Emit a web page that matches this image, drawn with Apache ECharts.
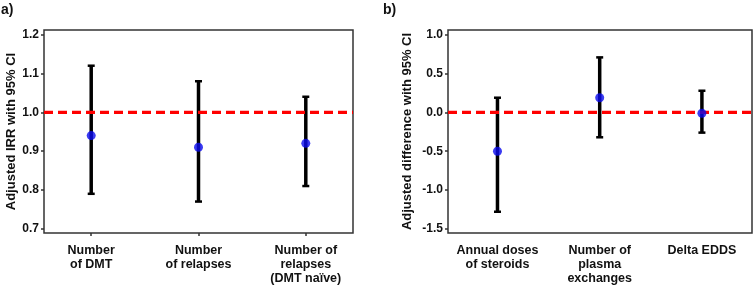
<!DOCTYPE html>
<html><head><meta charset="utf-8">
<script src="https://cdn.jsdelivr.net/npm/echarts@6/dist/echarts.min.js"></script>
<style>html,body{margin:0;padding:0;background:#fff}#c{width:755px;height:288px}</style>
</head><body><div id="c"></div>
<script>
// Panel a
const catsA = ['Number\nof DMT', 'Number\nof relapses', 'Number of\nrelapses\n(DMT naïve)'];
const estA = [0.94, 0.91, 0.92];
const lowA = [0.79, 0.77, 0.81];
const highA = [1.12, 1.08, 1.04];
const ticksA = [0.7, 0.8, 0.9, 1.0, 1.1, 1.2];
const refA = 1.0;
// Panel b
const catsB = ['Annual doses\nof steroids', 'Number of\nplasma\nexchanges', 'Delta EDDS'];
const estB = [-0.50, 0.19, -0.01];
const lowB = [-1.28, -0.32, -0.26];
const highB = [0.19, 0.71, 0.28];
const ticksB = [-1.5, -1.0, -0.5, 0.0, 0.5, 1.0];
const refB = 0.0;
const pos = [1, 2, 3];

const FONT = '"Liberation Sans", Arial, sans-serif';
const chart = echarts.init(document.getElementById('c'));

function xAxisFor(gi, cats, min, max) {
  return {
    type: 'value', gridIndex: gi, min: min, max: max,
    splitLine: {show: false}, axisLine: {show: false},
    axisTick: {show: true, customValues: pos, length: 3, lineStyle: {color: '#333', width: 1.5}},
    axisLabel: {customValues: pos, formatter: v => cats[Math.round(v) - 1] || '',
      fontFamily: FONT, fontWeight: 'bold', fontSize: 12.5, color: '#111', lineHeight: 14, margin: 11}
  };
}
function yAxisFor(gi, ticks, min, max, name, gap) {
  return {
    type: 'value', gridIndex: gi, min: min, max: max,
    splitLine: {show: false}, axisLine: {show: false},
    axisTick: {show: true, customValues: ticks, length: 3, lineStyle: {color: '#333', width: 1.5}},
    axisLabel: {customValues: ticks, formatter: v => v.toFixed(1),
      fontFamily: FONT, fontWeight: 'bold', fontSize: 12, color: '#111', margin: 5},
    name: name, nameLocation: 'middle', nameGap: gap, nameRotate: 90,
    nameTextStyle: {fontFamily: FONT, fontWeight: 'bold', fontSize: 13, color: '#111'}
  };
}
function errSeries(axi, low, high) {
  return {
    type: 'custom', xAxisIndex: axi, yAxisIndex: axi, z: 2,
    data: pos.map((p, i) => [p, low[i], high[i]]),
    renderItem: function (params, api) {
      const lo = api.coord([api.value(0), api.value(1)]);
      const hi = api.coord([api.value(0), api.value(2)]);
      const cw = 3.5;
      const st = {stroke: '#000', lineWidth: 3.5};
      const cs = {stroke: '#000', lineWidth: 2.5};
      return {type: 'group', children: [
        {type: 'line', shape: {x1: lo[0], y1: lo[1], x2: hi[0], y2: hi[1]}, style: st},
        {type: 'line', shape: {x1: lo[0] - cw, y1: lo[1], x2: lo[0] + cw, y2: lo[1]}, style: cs},
        {type: 'line', shape: {x1: hi[0] - cw, y1: hi[1], x2: hi[0] + cw, y2: hi[1]}, style: cs}
      ]};
    }
  };
}
function refSeries(axi, ref, min, max) {
  return {
    type: 'line', xAxisIndex: axi, yAxisIndex: axi, z: 3, showSymbol: false, silent: true,
    data: [[min, ref], [max, ref]],
    lineStyle: {color: '#ff0000', width: 3.2, type: [9, 5]}
  };
}
function ptSeries(axi, est) {
  return {
    type: 'scatter', xAxisIndex: axi, yAxisIndex: axi, z: 4, symbolSize: 9,
    data: pos.map((p, i) => [p, est[i]]),
    itemStyle: {color: '#0a0aee'}
  };
}

const xa = [0.56, 3.44], xb = [0.516, 3.49];
chart.setOption({
  animation: false,
  grid: [
    {left: 44, top: 30, width: 309, height: 203, show: true, borderColor: '#333', borderWidth: 1.5},
    {left: 448, top: 30, width: 304, height: 203, show: true, borderColor: '#333', borderWidth: 1.5}
  ],
  xAxis: [xAxisFor(0, catsA, xa[0], xa[1]), xAxisFor(1, catsB, xb[0], xb[1])],
  yAxis: [
    yAxisFor(0, ticksA, 0.689, 1.212, 'Adjusted IRR with 95% CI', 23),
    yAxisFor(1, ticksB, -1.554, 1.063, 'Adjusted difference with 95% CI', 34)
  ],
  graphic: [
    {type: 'text', left: 1, top: 3, style: {text: 'a)', font: 'bold 14px ' + FONT, fill: '#111'}},
    {type: 'text', left: 383, top: 3, style: {text: 'b)', font: 'bold 14px ' + FONT, fill: '#111'}}
  ],
  series: [
    errSeries(0, lowA, highA), refSeries(0, refA, xa[0], xa[1]), ptSeries(0, estA),
    errSeries(1, lowB, highB), refSeries(1, refB, xb[0], xb[1]), ptSeries(1, estB)
  ]
});
</script></body></html>
